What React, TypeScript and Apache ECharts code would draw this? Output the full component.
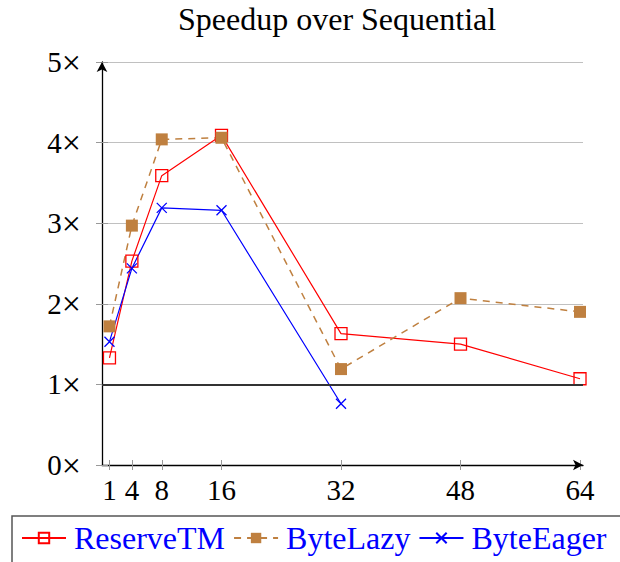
import React, { useEffect, useRef } from "react";
import * as echarts from "echarts";

const xTicks = [1, 4, 8, 16, 32, 48, 64];
const reserveX = [1, 4, 8, 16, 32, 48, 64];
const reserveTM = [1.33, 2.53, 3.59, 4.09, 1.63, 1.5, 1.07];
const lazyX = [1, 4, 8, 16, 32, 48, 64];
const byteLazy = [1.72, 2.97, 4.04, 4.06, 1.19, 2.07, 1.9];
const eagerX = [1, 4, 8, 16, 32];
const byteEager = [1.53, 2.44, 3.19, 3.16, 0.76];
const yTicks = [0, 1, 2, 3, 4, 5];

const FONT = "Liberation Serif";
const CROSS = "path://M0,0L10,10M10,0L0,10";

export default function App() {
  const ref = useRef<HTMLDivElement>(null);
  useEffect(() => {
    if (!ref.current) return;
    const chart = echarts.init(ref.current, undefined, { renderer: "svg" });
    const pair = (xs: number[], ys: number[]) => xs.map((x, i) => [x, ys[i]]);
    const baseX = { type: "value", min: 0, max: 64.4, position: "bottom" } as any;
    const baseY = { type: "value", min: 0, max: 5, interval: 1, position: "left" } as any;
    chart.setOption({
      animation: false,
      title: {
        text: "Speedup over Sequential",
        left: 173,
        top: -2,
        textStyle: { fontFamily: FONT, fontSize: 32, fontWeight: "normal", color: "#000" },
      },
      grid: { left: 102, right: 37, top: 62, bottom: 97, containLabel: false },
      graphic: [
        {
          type: "rect",
          shape: { x: 12, y: 516, width: 700, height: 100 },
          style: { fill: "none", stroke: "#555", lineWidth: 1.5 },
          silent: true,
        },
      ],
      legend: {
        left: 21,
        top: 522,
        padding: 0,
        itemGap: 8,
        itemWidth: 44,
        itemHeight: 13,
        textStyle: { fontFamily: FONT, fontSize: 32, color: "#0000ff", padding: [0, 0, 0, 3] },
        data: ["ReserveTM", "ByteLazy", "ByteEager"],
      },
      xAxis: [
        {
          ...baseX,
          axisLine: { show: true, lineStyle: { color: "#000", width: 1.3 }, symbol: ["none", "arrow"], symbolSize: [8, 10] },
          axisTick: { show: false },
          axisLabel: { customValues: xTicks, margin: 10, fontFamily: FONT, fontSize: 29, color: "#000" },
          splitLine: { show: false },
        },
        {
          ...baseX,
          axisLine: { show: false },
          axisTick: { show: true, inside: true, length: 5, customValues: xTicks, lineStyle: { color: "#999", width: 1 } },
          axisLabel: { show: false },
          splitLine: { show: false },
        },
        {
          ...baseX,
          axisLine: { show: false },
          axisTick: { show: true, inside: false, length: 5, customValues: xTicks, lineStyle: { color: "#999", width: 1 } },
          axisLabel: { show: false },
          splitLine: { show: false },
        },
      ],
      yAxis: [
        {
          ...baseY,
          axisLine: { show: true, lineStyle: { color: "#000", width: 1.3 }, symbol: ["none", "arrow"], symbolSize: [8, 10] },
          axisTick: { show: false },
          axisLabel: {
            margin: 21,
            fontFamily: FONT,
            fontSize: 29,
            color: "#000",
            formatter: (v: number) => (yTicks.includes(v) ? `${v}{t|×}` : ""),
            rich: { t: { fontFamily: FONT, fontSize: 34, color: "#000" } },
          },
          splitLine: { show: true, lineStyle: { color: "#c0c0c0", width: 1 } },
        },
        {
          ...baseY,
          axisLine: { show: false },
          axisTick: { show: true, inside: false, length: 6, lineStyle: { color: "#999", width: 1 } },
          axisLabel: { show: false },
          splitLine: { show: false },
        },
        {
          ...baseY,
          axisLine: { show: false },
          axisTick: { show: true, inside: true, length: 6, lineStyle: { color: "#999", width: 1 } },
          axisLabel: { show: false },
          splitLine: { show: false },
        },
      ],
      series: [
        {
          name: "ReserveTM",
          type: "line",
          xAxisIndex: 0,
          yAxisIndex: 0,
          data: pair(reserveX, reserveTM),
          symbol: "rect",
          symbolSize: 12,
          lineStyle: { color: "#ff0000", width: 1.2 },
          itemStyle: { color: "rgba(255,255,255,0)", borderColor: "#ff0000", borderWidth: 1.3 },
          markLine: {
            silent: true,
            symbol: "none",
            label: { show: false },
            lineStyle: { color: "#333", width: 2, type: "solid" },
            data: [{ yAxis: 1 }],
          },
        },
        {
          name: "ByteLazy",
          type: "line",
          xAxisIndex: 0,
          yAxisIndex: 0,
          data: pair(lazyX, byteLazy),
          symbol: "rect",
          symbolSize: 12,
          lineStyle: { color: "#bf8040", width: 1.5, type: [7, 6] },
          itemStyle: { color: "#bf8040", borderColor: "#bf8040", borderWidth: 0 },
        },
        {
          name: "ByteEager",
          type: "line",
          xAxisIndex: 0,
          yAxisIndex: 0,
          data: pair(eagerX, byteEager),
          symbol: CROSS,
          symbolSize: 10,
          lineStyle: { color: "#0000ff", width: 1.2 },
          itemStyle: { color: "#0000ff", borderColor: "#0000ff", borderWidth: 1.3 },
        },
      ],
    });
    return () => chart.dispose();
  }, []);
  return (
    <div
      ref={ref}
      style={{ position: "absolute", left: 0, top: 0, width: 620, height: 562, background: "#fff" }}
    />
  );
}
